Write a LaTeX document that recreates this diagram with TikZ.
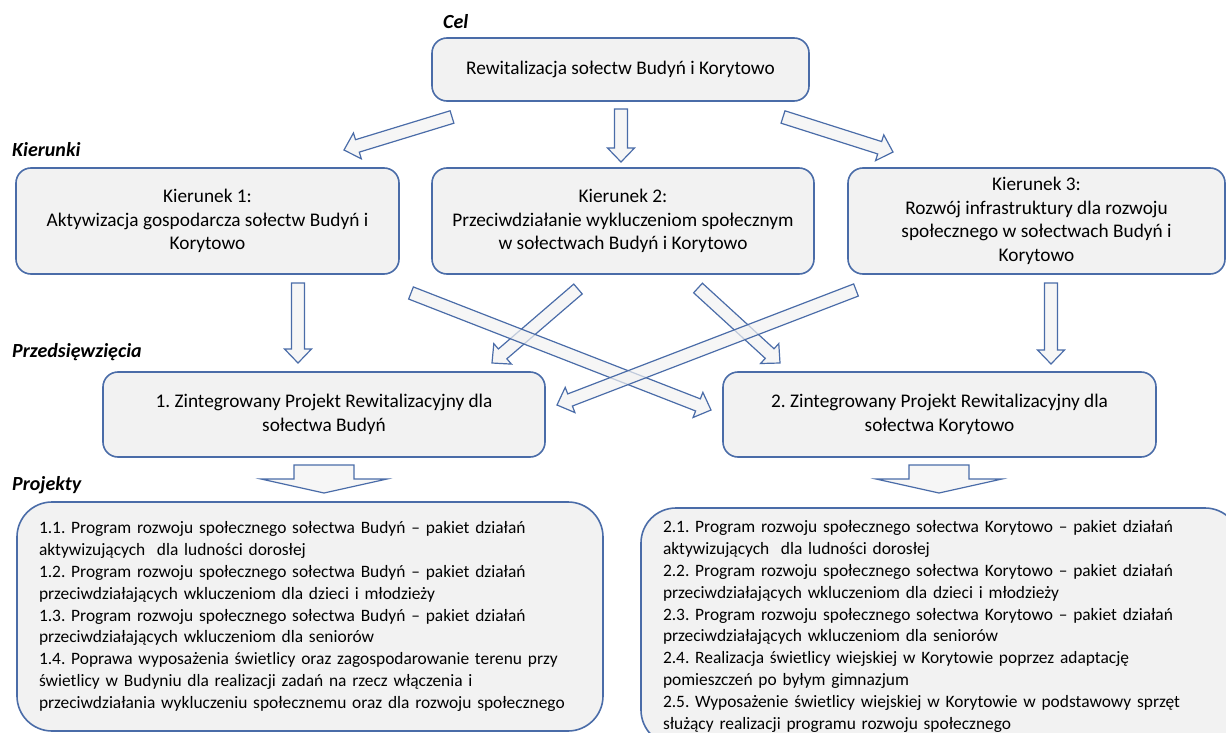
\documentclass[tikz,border=0pt]{standalone}
\usepackage{fontspec}
\setmainfont{Carlito}
\usepackage{tikz}
\usetikzlibrary{calc}
\definecolor{boxfill}{HTML}{F2F2F2}
\definecolor{boxline}{HTML}{4A6CA8}
\tikzset{
  box/.style={draw=boxline, line width=1.6pt, fill=boxfill, rounded corners=15pt,
    align=center, font=\fontsize{19.3}{23.5}\selectfont, inner sep=0pt},
  listbox/.style={draw=boxline, line width=1.6pt, fill=boxfill, rounded corners=35pt,
    align=left, font=\fontsize{17.4}{21.8}\selectfont, inner xsep=22pt, inner ysep=0pt},
  heading/.style={anchor=west, inner sep=0pt, font=\fontsize{20}{22}\selectfont\bfseries\itshape},
  arrowshape/.style={draw=boxline, line width=1.2pt, fill=boxfill, fill opacity=0.7,
    line join=miter}
}
% block arrow: tail, tip, half shaft, half head, head length
\newcommand{\blockarrow}[5]{%
  \coordinate (neck) at ($(#2)!#5!(#1)$);
  \draw[arrowshape] ($(#1)!#3!90:(#2)$) -- ($(neck)!#3!90:(#2)$)
    -- ($(neck)!#4!90:(#2)$) -- (#2) -- ($(neck)!#4!-90:(#2)$)
    -- ($(neck)!#3!-90:(#2)$) -- ($(#1)!#3!-90:(#2)$) -- cycle;
}
\frenchspacing

\begin{document}
\begin{tikzpicture}[x=1pt, y=-1pt]
    \clip (0,0) rectangle (1226,733);
    \useasboundingbox (0,0) rectangle (1226,733);

    % level headings
    \node[heading] (celLabel) at (443,22) {Cel};
    \node[heading] (kierLabel) at (12,150) {Kierunki};
    \node[heading] (przLabel) at (12,352) {Przedsięwzięcia};
    \node[heading] (projLabel) at (12,485) {Projekty};

    % boxes
    \node[box, minimum width=377pt, minimum height=63pt] (cel) at (620.5,69.5)
      {Rewitalizacja sołectw Budyń i Korytowo};
    \node[box, minimum width=383pt, minimum height=106pt] (kier1) at (207.5,221)
      {Kierunek 1:\\Aktywizacja gospodarcza sołectw Budyń i\\Korytowo};
    \node[box, minimum width=382pt, minimum height=106pt] (kier2) at (623,221)
      {Kierunek 2:\\Przeciwdziałanie wykluczeniom społecznym\\w sołectwach Budyń i Korytowo};
    \node[box, minimum width=377pt, minimum height=106pt] (kier3) at (1036.5,221)
      {Kierunek 3:\\Rozwój infrastruktury dla rozwoju\\społecznego w sołectwach Budyń i\\Korytowo};
    \node[box, minimum width=442pt, minimum height=85pt] (prz1) at (324,414.5)
      {1. Zintegrowany Projekt Rewitalizacyjny dla\\sołectwa Budyń};
    \node[box, minimum width=433pt, minimum height=85pt] (prz2) at (939.5,414.5)
      {2. Zintegrowany Projekt Rewitalizacyjny dla\\sołectwa Korytowo};
    \node[listbox, text width=542pt, minimum height=229pt] (proj1) at (310,616.5)
      {1.1. Program rozwoju społecznego sołectwa Budyń – pakiet działań\\
       aktywizujących\ \ dla ludności dorosłej\\
       1.2. Program rozwoju społecznego sołectwa Budyń – pakiet działań\\
       przeciwdziałających wkluczeniom dla dzieci i młodzieży\\
       1.3. Program rozwoju społecznego sołectwa Budyń – pakiet działań\\
       przeciwdziałających wkluczeniom dla seniorów\\
       1.4. Poprawa wyposażenia świetlicy oraz zagospodarowanie terenu przy\\
       świetlicy w Budyniu dla realizacji zadań na rzecz włączenia i\\
       przeciwdziałania wykluczeniu społecznemu oraz dla rozwoju społecznego};
    \node[listbox, text width=555pt, minimum height=237pt] (proj2) at (940.5,626.5)
      {2.1. Program rozwoju społecznego sołectwa Korytowo – pakiet działań\\
       aktywizujących\ \ dla ludności dorosłej\\
       2.2. Program rozwoju społecznego sołectwa Korytowo – pakiet działań\\
       przeciwdziałających wkluczeniom dla dzieci i młodzieży\\
       2.3. Program rozwoju społecznego sołectwa Korytowo – pakiet działań\\
       przeciwdziałających wkluczeniom dla seniorów\\
       2.4. Realizacja świetlicy wiejskiej w Korytowie poprzez adaptację\\
       pomieszczeń po byłym gimnazjum\\
       2.5. Wyposażenie świetlicy wiejskiej w Korytowie w podstawowy sprzęt\\
       służący realizacji programu rozwoju społecznego};

    % arrow ends
    \coordinate (celK1a) at (452,117);   \coordinate (celK1b) at (344,150);
    \coordinate (celK2a) at (621,109);   \coordinate (celK2b) at (621,162);
    \coordinate (celK3a) at (783,117);   \coordinate (celK3b) at (893,152);
    \coordinate (k1P1a) at (298,283);    \coordinate (k1P1b) at (298,363);
    \coordinate (k1P2a) at (411,293);    \coordinate (k1P2b) at (711,410);
    \coordinate (k2P1a) at (578,289);    \coordinate (k2P1b) at (492,363);
    \coordinate (k2P2a) at (698,288);    \coordinate (k2P2b) at (780,363);
    \coordinate (k3P1a) at (856,290);    \coordinate (k3P1b) at (557,405);
    \coordinate (k3P2a) at (1051,283);   \coordinate (k3P2b) at (1051,364);
    \coordinate (p1Pr1a) at (324,465);   \coordinate (p1Pr1b) at (324,493);
    \coordinate (p2Pr2a) at (939,465);   \coordinate (p2Pr2b) at (939,493);

    \blockarrow{celK1a}{celK1b}{6.5pt}{13.5pt}{14pt}
    \blockarrow{celK2a}{celK2b}{6.5pt}{13.5pt}{14pt}
    \blockarrow{celK3a}{celK3b}{6.5pt}{13.5pt}{14pt}
    \blockarrow{k1P1a}{k1P1b}{6.5pt}{13.5pt}{14pt}
    \blockarrow{k3P2a}{k3P2b}{6.5pt}{13.5pt}{14pt}
    \blockarrow{k2P1a}{k2P1b}{6.5pt}{13.5pt}{14pt}
    \blockarrow{k2P2a}{k2P2b}{6.5pt}{13.5pt}{14pt}
    \blockarrow{k1P2a}{k1P2b}{6.5pt}{13.5pt}{14pt}
    \blockarrow{k3P1a}{k3P1b}{6.5pt}{13.5pt}{14pt}
    \blockarrow{p1Pr1a}{p1Pr1b}{30pt}{63pt}{14pt}
    \blockarrow{p2Pr2a}{p2Pr2b}{30pt}{63pt}{14pt}
\end{tikzpicture}
\end{document}
